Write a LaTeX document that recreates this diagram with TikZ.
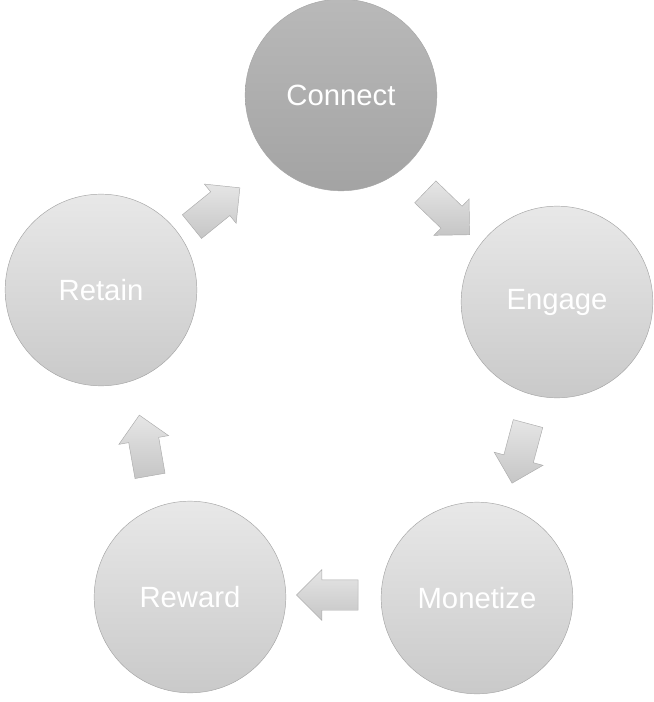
\documentclass[tikz,border=0pt]{standalone}
\usepackage{fontspec}
\setmainfont{Liberation Sans}
\usepackage{xcolor}
\usetikzlibrary{shapes.arrows}

\begin{document}
\begin{tikzpicture}[
  x=0.03cm, y=-0.03cm,
  stage/.style={circle, minimum size=5.75cm, inner sep=0pt, draw=gray!70,
                top color=gray!18, bottom color=gray!42, text=white,
                font=\fontsize{25}{30}\selectfont},
  flow/.style={single arrow, minimum height=1.85cm, inner sep=0.45cm,
               single arrow head extend=0.3cm, draw=gray!65,
               top color=gray!20, bottom color=gray!45}
]
  \useasboundingbox (0,0) rectangle (654,702);

  \node[stage, top color=gray!55, bottom color=gray!72] (connect) at (341,95)  {Connect};
  \node[stage] (engage)   at (557,302) {Engage};
  \node[stage] (monetize) at (477,598) {Monetize};
  \node[stage] (reward)   at (190,597) {Reward};
  \node[stage] (retain)   at (101,290) {Retain};

  \node[flow, rotate=-44] (ce) at (442,208) {};
  \node[flow, rotate=-105] (em) at (522,446) {};
  \node[flow, rotate=180] (mr) at (335,595) {};
  \node[flow, rotate=100] (rr) at (146,453) {};
  \node[flow, rotate=39] (rc) at (210,212) {};
\end{tikzpicture}
\end{document}
